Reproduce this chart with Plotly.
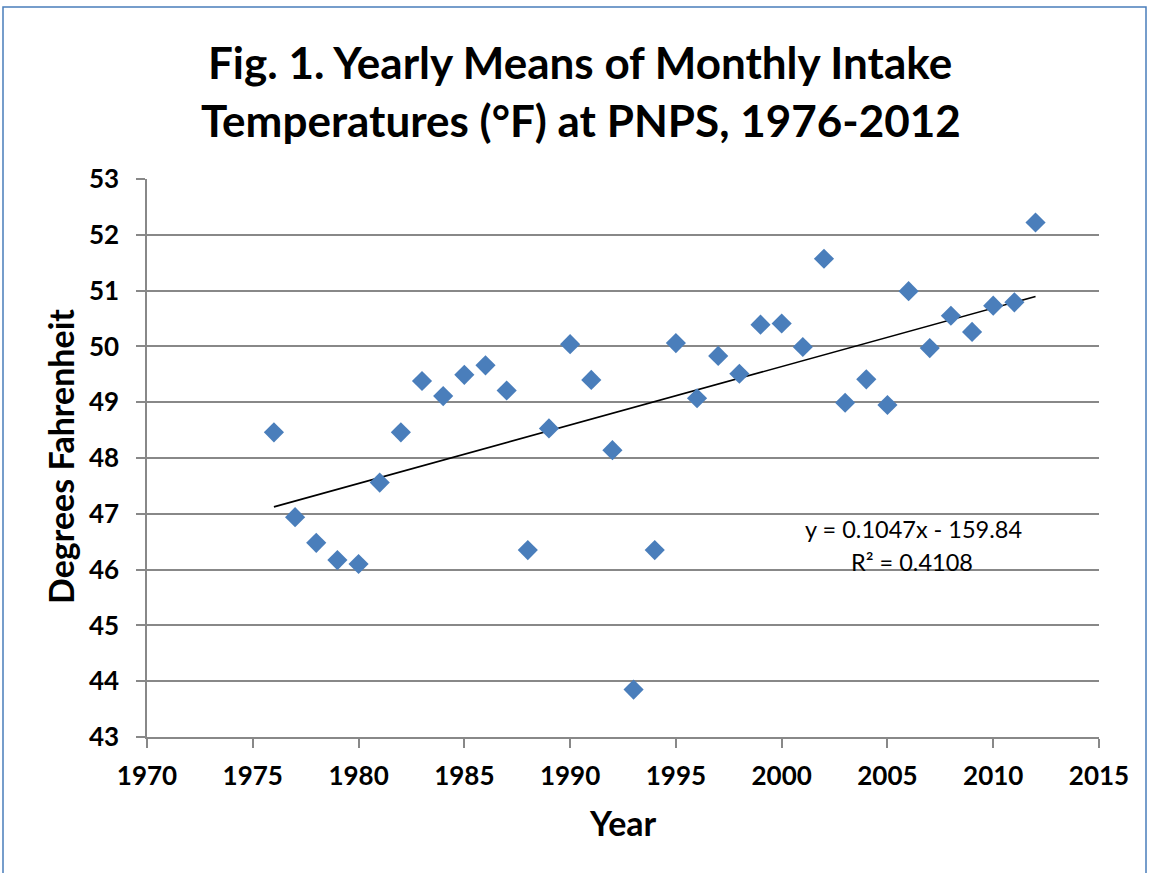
import numpy as np
import plotly.graph_objects as go

years = list(range(1976, 2013))
temps = [48.46, 46.94, 46.48, 46.17, 46.10, 47.56, 48.46, 49.38, 49.11, 49.49,
         49.66, 49.21, 46.35, 48.53, 50.04, 49.40, 48.14, 43.85, 46.35, 50.06,
         49.07, 49.83, 49.51, 50.39, 50.41, 49.99, 51.57, 48.99, 49.41, 48.95,
         50.99, 49.97, 50.55, 50.26, 50.73, 50.79, 52.22]

title_lines = ["Fig. 1. Yearly Means of Monthly Intake",
               "Temperatures (°F) at PNPS, 1976-2012"]
eq_text = "y = 0.1047x - 159.84"
r2_text = "R² = 0.4108"
x_ticks = [1970, 1975, 1980, 1985, 1990, 1995, 2000, 2005, 2010, 2015]
y_ticks = list(range(43, 54))

W, H = 1149, 873
# target plot area in page pixels (body margin removed below)
PL, PR, PT, PB = 147, 1099, 179, 737
ML, MT = PL, PT
MR, MB = W - PR, H - PB
PW, PH = W - ML - MR, H - MT - MB


def px(xp):
    return (xp - PL) / PW


def py(yp):
    return (PB - yp) / PH


slope, intercept = np.polyfit(years, temps, 1)
trend_x = [years[0], years[-1]]
trend_y = [slope * x + intercept for x in trend_x]

FONT = "Lato"
GRID = "#888888"

fig = go.Figure()
fig.add_trace(go.Scatter(x=trend_x, y=trend_y, mode="lines",
                         line=dict(color="black", width=1.6), hoverinfo="skip"))
fig.add_trace(go.Scatter(x=years, y=temps, mode="markers",
                         marker=dict(symbol="diamond", size=15.5, color="#4a7ebb",
                                     line=dict(width=0))))

fig.update_layout(
    width=W, height=H,
    margin=dict(l=ML, r=MR, t=MT, b=MB, pad=0),
    plot_bgcolor="white", paper_bgcolor="white",
    showlegend=False,
    font=dict(family=FONT, color="black"),
    xaxis=dict(range=[1970, 2015], tickvals=x_ticks, showgrid=False, zeroline=False,
               showline=True, linecolor=GRID, linewidth=1.5,
               ticks="outside", ticklen=9, tickwidth=1.5, tickcolor=GRID,
               tickfont=dict(family=FONT, size=26, color="black", weight="bold"),
               ticklabelstandoff=6),
    yaxis=dict(range=[43, 53], tickvals=y_ticks, showgrid=True, gridcolor=GRID,
               gridwidth=1.6, zeroline=False,
               showline=True, linecolor=GRID, linewidth=1.5,
               ticks="outside", ticklen=9, tickwidth=1.5, tickcolor=GRID,
               tickfont=dict(family=FONT, size=26, color="black", weight="bold"),
               ticklabelstandoff=12),
)

annots = [
    dict(text="<b>%s</b>" % title_lines[0], x=px(580), y=py(62), size=44),
    dict(text="<b>%s</b>" % title_lines[1], x=px(581), y=py(120), size=44),
    dict(text="<b>Year</b>", x=px(623), y=py(822), size=34),
    dict(text=eq_text, x=px(913), y=py(529), size=23.5),
    dict(text=r2_text, x=px(912), y=py(562), size=23.5),
]
for a in annots:
    fig.add_annotation(text=a["text"], x=a["x"], y=a["y"], xref="paper", yref="paper",
                       xanchor="center", yanchor="middle", showarrow=False,
                       font=dict(family=FONT, size=a["size"], color="black"))
fig.add_annotation(text="<b>Degrees Fahrenheit</b>", x=px(60), y=py(457),
                   xref="paper", yref="paper", xanchor="center", yanchor="middle",
                   textangle=-90, showarrow=False,
                   font=dict(family=FONT, size=34, color="black"))

# outer chart border
fig.add_shape(type="rect", xref="paper", yref="paper",
              x0=px(3), x1=px(1146), y0=py(890), y1=py(7),
              line=dict(color="#4a7ebb", width=1.5), fillcolor="rgba(0,0,0,0)")

fig.write_html("out.html", config={"displayModeBar": False},
               post_script="document.body.style.margin='0px';document.body.style.overflow='hidden';")
